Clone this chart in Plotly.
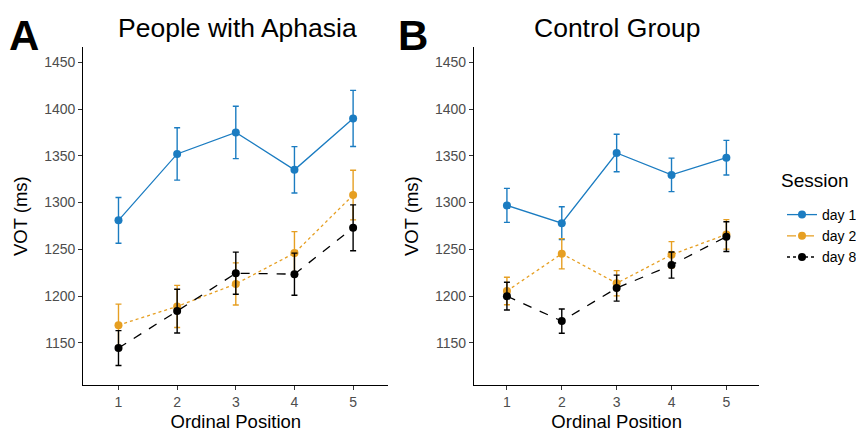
import plotly.graph_objects as go

positions = [1, 2, 3, 4, 5]
sessions = ["day 1", "day 2", "day 8"]

# People with Aphasia (panel A)
pwa_day1 = [1281, 1352, 1375, 1335, 1390]
pwa_day1_err = [24.5, 28, 28, 24.8, 30]
pwa_day2 = [1169, 1189, 1213, 1246, 1308]
pwa_day2_err = [22.5, 22.5, 22.5, 23, 26.5]
pwa_day8 = [1144.5, 1184, 1224.5, 1223.5, 1273]
pwa_day8_err = [18.6, 23.4, 22.5, 22.5, 24.5]

# Control Group (panel B)
ctl_day1 = [1297, 1278, 1353, 1329.6, 1348]
ctl_day1_err = [18.2, 17.5, 20, 17.9, 18.5]
ctl_day2 = [1205.5, 1245.3, 1213.8, 1244.3, 1266]
ctl_day2_err = [14.7, 16.2, 13.5, 14, 15.8]
ctl_day8 = [1200, 1173.3, 1208.6, 1233.2, 1263.6]
ctl_day8_err = [14.8, 13, 13.9, 13.9, 15.9]

yticks = [1150, 1200, 1250, 1300, 1350, 1400, 1450]

colors = {"day 1": "#1b7cc1", "day 2": "#e69f22", "day 8": "#000000"}
dashes = {"day 1": "solid", "day 2": "dot", "day 8": "dash"}
legend_dashes = {"day 1": "solid", "day 2": "dash", "day 8": "dot"}

FONT = "Liberation Sans, Arial, sans-serif"

# page body has an 8px margin; the figure is sized to fill the rest of the window
OFF = 8
W, H = 864 - OFF, 432 - OFF


def px(x):
    return (x - OFF) / W


def py(y):
    return 1 - (y - OFF) / H


fig = go.Figure()

panels = [
    ("x", "y", [(pwa_day1, pwa_day1_err), (pwa_day2, pwa_day2_err), (pwa_day8, pwa_day8_err)]),
    ("x2", "y2", [(ctl_day1, ctl_day1_err), (ctl_day2, ctl_day2_err), (ctl_day8, ctl_day8_err)]),
]

for xa, ya, series in panels:
    for name, (vals, errs) in zip(sessions, series):
        fig.add_trace(go.Scatter(
            x=positions, y=vals, xaxis=xa, yaxis=ya,
            mode="lines+markers", name=name, showlegend=False,
            line=dict(color=colors[name], width=1.3, dash=dashes[name]),
            marker=dict(color=colors[name], size=8),
            error_y=dict(type="data", array=errs, visible=True,
                         color=colors[name], thickness=1.4, width=3),
        ))

for name in sessions:
    fig.add_trace(go.Scatter(
        x=[None], y=[None], mode="lines+markers", name=name,
        line=dict(color=colors[name], width=1.3, dash=legend_dashes[name]),
        marker=dict(color=colors[name], size=8),
    ))

axis_common = dict(
    showgrid=False, zeroline=False, showline=True, linecolor="black", linewidth=1.2,
    ticks="outside", ticklen=4, tickcolor="#333333", tickwidth=1, automargin=False,
    tickfont=dict(family=FONT, size=14, color="#4d4d4d"),
)
xtitle = dict(text="Ordinal Position", font=dict(size=18.5, color="black"), standoff=9)
ytitle = dict(text="VOT (ms)", font=dict(size=18.5, color="black"), standoff=11)

ydom = [py(385), py(47.3)]
fig.update_layout(
    width=W, height=H,
    margin=dict(l=0, r=0, t=0, b=0, autoexpand=False),
    paper_bgcolor="white", plot_bgcolor="white",
    font=dict(family=FONT),
    xaxis=dict(domain=[px(83.3), px(388.3)], range=[0.4, 5.6], tickvals=positions,
               title=xtitle, anchor="y", **axis_common),
    yaxis=dict(domain=ydom, range=[1105, 1466], tickvals=yticks,
               title=ytitle, anchor="x", **axis_common),
    xaxis2=dict(domain=[px(474), px(759.3)], range=[0.4, 5.6], tickvals=positions,
                title=xtitle, anchor="y2", **axis_common),
    yaxis2=dict(domain=ydom, range=[1105, 1466], tickvals=yticks,
                title=ytitle, anchor="x2", **axis_common),
    legend=dict(x=px(782), y=py(199), xanchor="left", yanchor="top",
                font=dict(size=14, color="black"), itemwidth=30, tracegroupgap=0,
                bgcolor="rgba(0,0,0,0)"),
    annotations=[
        dict(text="People with Aphasia", x=px(237), y=py(28), xref="paper", yref="paper",
             showarrow=False, font=dict(size=26.5, color="black"), xanchor="center", yanchor="middle"),
        dict(text="Control Group", x=px(617), y=py(28), xref="paper", yref="paper",
             showarrow=False, font=dict(size=26.5, color="black"), xanchor="center", yanchor="middle"),
        dict(text="<b>A</b>", x=px(24), y=py(36), xref="paper", yref="paper",
             showarrow=False, font=dict(size=42, color="black"), xanchor="center", yanchor="middle"),
        dict(text="<b>B</b>", x=px(413), y=py(36), xref="paper", yref="paper",
             showarrow=False, font=dict(size=42, color="black"), xanchor="center", yanchor="middle"),
        dict(text="Session", x=px(779), y=py(181), xref="paper", yref="paper",
             showarrow=False, font=dict(size=19, color="black"), xanchor="left", yanchor="middle"),
    ],
)

fig.write_html("out.html")
